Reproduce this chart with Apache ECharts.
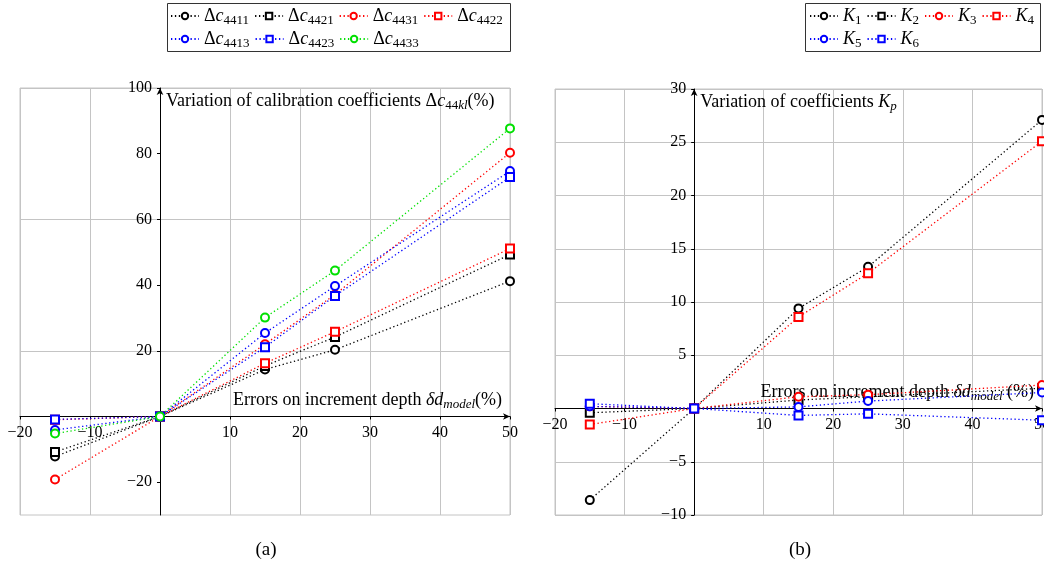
<!DOCTYPE html>
<html><head><meta charset="utf-8">
<script src="https://cdn.jsdelivr.net/npm/echarts@6/dist/echarts.min.js"></script>
<style>html,body{margin:0;padding:0;background:#fff}#c{width:1044px;height:572px}</style>
</head><body><div id="c"></div>
<script>
// ---- data ----
const xValues = [-15, 0, 15, 25, 50];

const c4411 = [-12.2, 0, 14.3, 20.3, 41.2];
const c4421 = [-10.8, 0, 15.4, 24.2, 49.3];
const c4431 = [-19.2, 0, 22.0, 37.1, 80.3];
const c4422 = [-1.0, 0, 16.2, 25.8, 51.1];
const c4413 = [-4.1, 0, 25.4, 39.7, 74.7];
const c4423 = [-0.9, 0, 21.1, 36.7, 72.9];
const c4433 = [-5.2, 0, 30.1, 44.4, 87.7];

const K1 = [-8.6, 0, 9.4, 13.3, 27.1];
const K2 = [-0.4, 0, 0.8, 1.1, 1.9];
const K3 = [0.2, 0, 1.1, 1.3, 2.2];
const K4 = [-1.5, 0, 8.6, 12.7, 25.1];
const K5 = [0.2, 0, 0.15, 0.7, 1.5];
const K6 = [0.45, 0, -0.65, -0.5, -1.1];

const xTickLabels = [-20, -10, 10, 20, 30, 40, 50];
const leftYTickLabels = [-20, 20, 40, 60, 80, 100];
const rightYTickLabels = [-10, -5, 5, 10, 15, 20, 25, 30];

// ---- layout ----
const W = 1044, H = 572;
const G = [
  {left: 20, right: 534, top: 88, bottom: 57, xmin: -20, xmax: 50, ymin: -30, ymax: 100},
  {left: 555, right: 2, top: 89, bottom: 57, xmin: -20, xmax: 50, ymin: -10, ymax: 30}
];
G.forEach(g => {
  g.w = W - g.left - g.right; g.h = H - g.top - g.bottom;
  g.xOff = -(0 - g.ymin) / (g.ymax - g.ymin) * g.h;   // move x axis from bottom up to y=0
  g.yOff = -(0 - g.xmin) / (g.xmax - g.xmin) * g.w;   // move y axis from left to x=0
});

// ---- styling ----
const F = 'Liberation Serif';
const rich = {
  n: {fontFamily: F, fontSize: 18, color: '#000', lineHeight: 22},
  i: {fontFamily: F, fontSize: 18, color: '#000', fontStyle: 'italic', lineHeight: 22},
  d: {fontFamily: F, fontSize: 13, color: '#000', verticalAlign: 'bottom'},
  s: {fontFamily: F, fontSize: 13, color: '#000', fontStyle: 'italic', verticalAlign: 'bottom'}
};
const legendLabel = {
  c4411: '{n|Δ}{i|c}{d|4411}', c4421: '{n|Δ}{i|c}{d|4421}', c4431: '{n|Δ}{i|c}{d|4431}',
  c4422: '{n|Δ}{i|c}{d|4422}', c4413: '{n|Δ}{i|c}{d|4413}', c4423: '{n|Δ}{i|c}{d|4423}',
  c4433: '{n|Δ}{i|c}{d|4433}',
  K1: '{i|K}{d|1}', K2: '{i|K}{d|2}', K3: '{i|K}{d|3}', K4: '{i|K}{d|4}', K5: '{i|K}{d|5}', K6: '{i|K}{d|6}'
};
const fmt = v => (v < 0 ? '\u2212' + Math.abs(v) : String(v));
const gridGray = '#c4c4c4';

function mk(name, values, color, symbol, ai) {
  return {
    type: 'line', name, xAxisIndex: ai, yAxisIndex: ai,
    data: xValues.map((x, i) => [x, values[i]]),
    symbol, symbolSize: 8,
    lineStyle: {type: [1.3, 2.6], width: 1.3, color},
    itemStyle: {color, borderColor: color, borderWidth: 1.2},
    emphasis: {disabled: true},
    z: 3
  };
}
const BLACK = '#000', RED = '#ff0000', BLUE = '#0000ff', GREEN = '#00e000';

const series = [
  mk('c4411', c4411, BLACK, 'emptyCircle', 0),
  mk('c4421', c4421, BLACK, 'emptyRect', 0),
  mk('c4431', c4431, RED, 'emptyCircle', 0),
  mk('c4422', c4422, RED, 'emptyRect', 0),
  mk('c4413', c4413, BLUE, 'emptyCircle', 0),
  mk('c4423', c4423, BLUE, 'emptyRect', 0),
  mk('c4433', c4433, GREEN, 'emptyCircle', 0),
  mk('K1', K1, BLACK, 'emptyCircle', 1),
  mk('K2', K2, BLACK, 'emptyRect', 1),
  mk('K3', K3, RED, 'emptyCircle', 1),
  mk('K4', K4, RED, 'emptyRect', 1),
  mk('K5', K5, BLUE, 'emptyCircle', 1),
  mk('K6', K6, BLUE, 'emptyRect', 1)
];

const axisLineStyle = {show: true, onZero: false, symbol: ['none', 'arrow'], symbolSize: [5, 7], lineStyle: {color: '#000', width: 1}};

function xAxis(gi, nameText) {
  return {
    type: 'value', gridIndex: gi, min: G[gi].xmin, max: G[gi].xmax, interval: 10,
    position: 'bottom', offset: G[gi].xOff,
    axisLine: axisLineStyle,
    axisTick: {show: true, length: 3, lineStyle: {color: '#000'}},
    axisLabel: {margin: 8, fontFamily: F, fontSize: 16, color: '#000',
      formatter: v => xTickLabels.includes(v) ? fmt(v) : ''},
    splitLine: {show: true, lineStyle: {color: gridGray, width: 1}},
    name: nameText, nameLocation: 'end', nameGap: -8,
    nameTextStyle: {align: 'right', verticalAlign: 'bottom', padding: [0, 0, 5, 0], rich}
  };
}

const option = {
  animation: false,
  backgroundColor: '#fff',
  grid: G.map(g => ({left: g.left, right: g.right, top: g.top, bottom: g.bottom, containLabel: false,
    outerBoundsMode: 'none', show: true, borderColor: gridGray, borderWidth: 1})),
  xAxis: [
    xAxis(0, '{n|Errors on increment depth }{i|δd}{s|model}{n|(%)}'),
    xAxis(1, '{n|Errors on increment depth }{i|δd}{s|model}{n| (%)}')
  ],
  yAxis: [
    {
      type: 'value', gridIndex: 0, min: G[0].ymin, max: G[0].ymax, interval: 10,
      position: 'left', offset: G[0].yOff,
      axisLine: axisLineStyle,
      axisTick: {show: true, length: 3, customValues: leftYTickLabels, lineStyle: {color: '#000'}},
      axisLabel: {margin: 8, fontFamily: F, fontSize: 16, color: '#000',
        formatter: v => leftYTickLabels.includes(v) ? fmt(v) : ''},
      splitLine: {show: true, lineStyle: {color: ['rgba(0,0,0,0)', gridGray], width: 1}},
      name: '{n|Variation of calibration coefficients Δ}{i|c}{d|44}{s|kl}{n|(%)}',
      nameLocation: 'end', nameGap: -2,
      nameTextStyle: {align: 'left', verticalAlign: 'top', padding: [0, 0, 0, 6], rich}
    },
    {
      type: 'value', gridIndex: 1, min: G[1].ymin, max: G[1].ymax, interval: 5,
      position: 'left', offset: G[1].yOff,
      axisLine: axisLineStyle,
      axisTick: {show: true, length: 3, lineStyle: {color: '#000'}},
      axisLabel: {margin: 8, fontFamily: F, fontSize: 16, color: '#000',
        formatter: v => rightYTickLabels.includes(v) ? fmt(v) : ''},
      splitLine: {show: true, lineStyle: {color: gridGray, width: 1}},
      name: '{n|Variation of coefficients }{i|K}{s|p}',
      nameLocation: 'end', nameGap: -2,
      nameTextStyle: {align: 'left', verticalAlign: 'top', padding: [0, 0, 0, 6], rich}
    }
  ],
  legend: [
    ['c4411', 'c4421', 'c4431', 'c4422'],
    ['c4413', 'c4423', 'c4433'],
    ['K1', 'K2', 'K3', 'K4'],
    ['K5', 'K6']
  ].map((d, k) => ({
    data: d, left: k < 2 ? 170 : 809, top: (k % 2 === 0) ? 7 : 30,
    padding: 0,
    itemWidth: 28, itemHeight: 8, itemGap: 5,
    textStyle: {fontFamily: F, fontSize: 18, color: '#000', rich},
    formatter: name => legendLabel[name],
    selectedMode: false
  })),
  graphic: [
    {type: 'rect', shape: {x: 167.5, y: 3.5, width: 343, height: 48}, style: {fill: 'none', stroke: '#333', lineWidth: 1}},
    {type: 'rect', shape: {x: 805.5, y: 3.5, width: 235, height: 48}, style: {fill: 'none', stroke: '#333', lineWidth: 1}},
    {type: 'text', x: 266, y: 550, style: {text: '(a)', font: '19px "Liberation Serif"', fill: '#000', textAlign: 'center', textVerticalAlign: 'middle'}},
    {type: 'text', x: 800, y: 550, style: {text: '(b)', font: '19px "Liberation Serif"', fill: '#000', textAlign: 'center', textVerticalAlign: 'middle'}}
  ],
  series
};
const chart = echarts.init(document.getElementById('c'), null, {renderer: 'canvas'});
chart.setOption(option);
</script>
</body></html>
